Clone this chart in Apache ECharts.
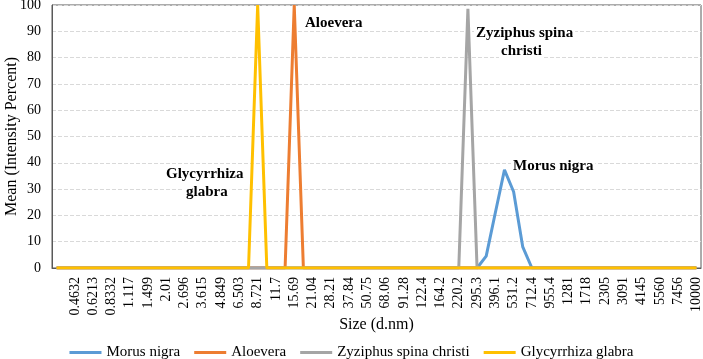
<!DOCTYPE html>
<html>
<head>
<meta charset="utf-8">
<script src="https://cdn.jsdelivr.net/npm/echarts@6/dist/echarts.min.js"></script>
<style>
  html, body { margin: 0; padding: 0; background: #fff; }
  #chart { width: 703px; height: 359px; }
</style>
</head>
<body>
<div id="chart"></div>
<script>
// size bins (d.nm)
const sizes = ['0.3455', '0.4', '0.4632', '0.5365', '0.6213', '0.7195', '0.8332', '0.9649', '1.117', '1.294',
  '1.499', '1.736', '2.01', '2.328', '2.696', '3.122', '3.615', '4.187', '4.849', '5.615',
  '6.503', '7.531', '8.721', '10.1', '11.7', '13.54', '15.69', '18.17', '21.04', '24.36',
  '28.21', '32.67', '37.84', '43.82', '50.75', '58.77', '68.06', '78.82', '91.28', '105.7',
  '122.4', '141.8', '164.2', '190.1', '220.2', '255', '295.3', '342', '396.1', '458.7',
  '531.2', '615.1', '712.4', '825', '955.4', '1106', '1281', '1484', '1718', '1990',
  '2305', '2669', '3091', '3580', '4145', '4801', '5560', '6439', '7456', '8635', '10000']

function zeros() { return sizes.map(() => 0) }

const morus = zeros()
morus[47] = 4.5; morus[48] = 21; morus[49] = 37.3; morus[50] = 29; morus[51] = 8

const aloe = zeros()
aloe[26] = 100

const zyziphus = zeros()
zyziphus[45] = 98.6

const glycyrrhiza = zeros()
glycyrrhiza[22] = 100

const names = ['Morus nigra', 'Aloevera', 'Zyziphus spina christi', 'Glycyrrhiza glabra']
const colors = ['#5B9BD5', '#ED7D31', '#A5A5A5', '#FFC000']
const values = [morus, aloe, zyziphus, glycyrrhiza]

const serif = '"Liberation Serif", "Times New Roman", serif'

const chart = echarts.init(document.getElementById('chart'))

// one text element per annotation line, white box hides the gridlines behind it
function note(text, x, y) {
  return {
    type: 'text',
    left: x, top: y,
    z: 10,
    style: {
      text: text,
      font: 'bold 15px ' + serif,
      fill: '#000',
      backgroundColor: '#fff',
      padding: [0, 2]
    }
  }
}

const option = {
  animation: false,
  textStyle: { fontFamily: serif },
  grid: {
    left: 52, right: 2, top: 5, bottom: 91,
    outerBoundsMode: 'none',
    containLabel: false,
    show: true, borderColor: '#595959', borderWidth: 1
  },
  legend: {
    top: 340,
    left: 'center',
    icon: 'rect',
    itemWidth: 32, itemHeight: 3,
    itemGap: 14,
    textStyle: { fontFamily: serif, fontSize: 15, color: '#000' },
    data: names
  },
  xAxis: {
    type: 'category',
    data: sizes,
    name: 'Size (d.nm)',
    nameLocation: 'middle',
    nameMoveOverlap: false,
    nameGap: 49,
    nameTextStyle: { fontFamily: serif, fontSize: 16, color: '#000' },
    axisLine: { lineStyle: { color: '#595959' } },
    axisTick: { show: false },
    axisLabel: {
      rotate: 90,
      fontFamily: serif, fontSize: 14, color: '#000',
      margin: 9,
      interval: (i) => i > 0 && i % 2 === 0
    }
  },
  yAxis: {
    type: 'value',
    min: 0, max: 100, interval: 10,
    name: 'Mean (Intensity Percent)',
    nameLocation: 'middle',
    nameMoveOverlap: false,
    nameGap: 32,
    nameTextStyle: { fontFamily: serif, fontSize: 16, color: '#000' },
    axisLine: { show: true, lineStyle: { color: '#595959' } },
    axisTick: { show: false },
    axisLabel: { fontFamily: serif, fontSize: 14, color: '#000', margin: 11 },
    splitLine: { lineStyle: { color: '#D9D9D9', type: 'dashed' } }
  },
  series: names.map((n, i) => ({
    name: n,
    type: 'line',
    data: values[i],
    symbol: 'none',
    lineStyle: { width: 3, color: colors[i] },
    itemStyle: { color: colors[i] }
  })),
  graphic: [
    note('Aloevera', 303, 16),
    note('Zyziphus spina', 474, 26),
    note('christi', 499, 44),
    note('Glycyrrhiza', 164, 167),
    note('glabra', 184, 185),
    note('Morus nigra', 511, 159)
  ]
}

chart.setOption(option)
</script>
</body>
</html>
